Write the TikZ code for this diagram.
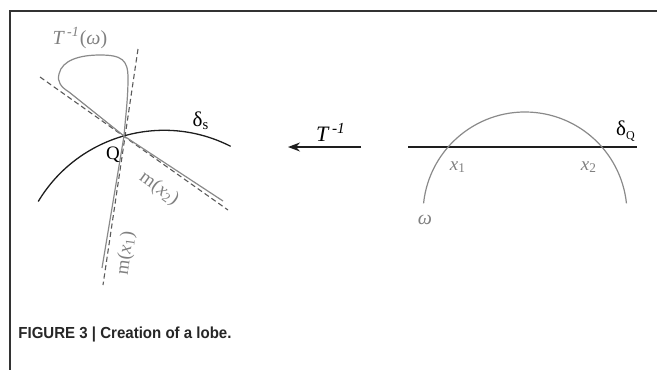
\documentclass[tikz,border=0pt]{standalone}
\usepackage{fontspec}
\setmainfont{Liberation Serif}
\newfontfamily\capfont{Liberation Sans}
\usetikzlibrary{arrows.meta}
\definecolor{curvegray}{HTML}{8A8A8A}
\definecolor{labgray}{HTML}{808080}
\definecolor{dashgray}{HTML}{5A5A5A}
\definecolor{framegray}{HTML}{333333}
\definecolor{darkline}{HTML}{1E1E1E}
\tikzset{
  frameline/.style={draw=framegray, line width=0.6pt},
  curve/.style={draw=curvegray, line width=0.6pt},
  blackcurve/.style={draw=darkline, line width=0.65pt},
  tangent/.style={draw=dashgray, line width=0.55pt, dash pattern=on 2.6pt off 1.6pt},
  graylab/.style={text=labgray, font=\fontsize{9.5}{11}\selectfont, inner sep=0pt},
  blacklab/.style={text=black, font=\fontsize{9.5}{11}\selectfont, inner sep=0pt},
}
\begin{document}
\begin{tikzpicture}[x=0.5pt,y=-0.5pt]
\useasboundingbox (0,0) rectangle (657,370);
% frame
\coordinate (ftl) at (10,11);
\coordinate (ftr) at (657,11);
\coordinate (fbl) at (10,370);
\draw[frameline] (ftr) -- (ftl) -- (fbl);

% ---------- left part ----------
\coordinate (Q) at (124,136);
% tangents (dashed)
\coordinate (d1a) at (138,49);
\coordinate (d1b) at (103,285);
\coordinate (d2a) at (40,77);
\coordinate (d2b) at (228,210);
\draw[tangent] (d1a) -- (d1b);
\draw[tangent] (d2a) -- (d2b);
% delta_s arc
\coordinate (dsc) at (164,277);
\draw[blackcurve] (dsc) ++(-149:146.7) arc[start angle=-149, end angle=-63, radius=146.7];
% T^-1(omega) curve with loop
\coordinate (mx1end) at (102,268);
\coordinate (mx2end) at (223,201);
\draw[curve] (mx1end) -- (Q)
  .. controls (126,112) and (128,98) .. (128,78)
  .. controls (128,60) and (122,55) .. (100,55)
  .. controls (80,55) and (62,60) .. (59,74)
  .. controls (57,82) and (61,87) .. (69,92)
  -- (Q) -- (mx2end);

\node[graylab, font=\fontsize{10}{12}\selectfont] (tlab) at (80,38) {\itshape T\,\textsuperscript{-1}\upshape(\itshape ω\upshape)};
\node[blacklab] (qlab) at (113,155) {Q};
\node[blacklab, font=\fontsize{10.5}{12}\selectfont] (dslab) at (201,121) {δ\textsubscript{s}};
\node[graylab, rotate=-36] (m2lab) at (159,189) {m(\itshape x\textsubscript{\upshape 2}\upshape)};
\node[graylab, rotate=82] (m1lab) at (126,253) {m(\itshape x\textsubscript{\upshape 1}\upshape)};

% ---------- arrow ----------
\coordinate (arrs) at (361,147);
\coordinate (arre) at (288,147);
\draw[darkline, line width=0.65pt, -{Stealth[length=6pt,width=4.5pt]}] (arrs) -- (arre);
\node[blacklab, font=\fontsize{11}{13}\selectfont] (tarr) at (331,132) {\itshape T\,\textsuperscript{-1}};

% ---------- right part ----------
\coordinate (dqa) at (408,147);
\coordinate (dqb) at (637,147);
\draw[darkline, line width=0.7pt] (dqa) -- (dqb);
\coordinate (omc) at (525,214);
\draw[curve] (omc) ++(-174:102) arc[start angle=-174, end angle=-6, radius=102];
\node[graylab] (x1lab) at (458,167) {\itshape x\textsubscript{\upshape 1}};
\node[graylab] (x2lab) at (589,167) {\itshape x\textsubscript{\upshape 2}};
\node[blacklab, font=\fontsize{10.5}{12}\selectfont] (dqlab) at (626,131) {δ\textsubscript{\fontsize{6}{7}\selectfont Q}};
\node[graylab, font=\fontsize{10}{12}\selectfont] (omlab) at (425,220) {\itshape ω};

% ---------- caption ----------
\node[anchor=base west, inner sep=0pt, font=\capfont\bfseries\fontsize{8}{9.5}\selectfont, text=black!85] (cap) at (18,338) {\scalebox{0.94}[1]{FIGURE 3 | Creation of a lobe.}};
\end{tikzpicture}
\end{document}
